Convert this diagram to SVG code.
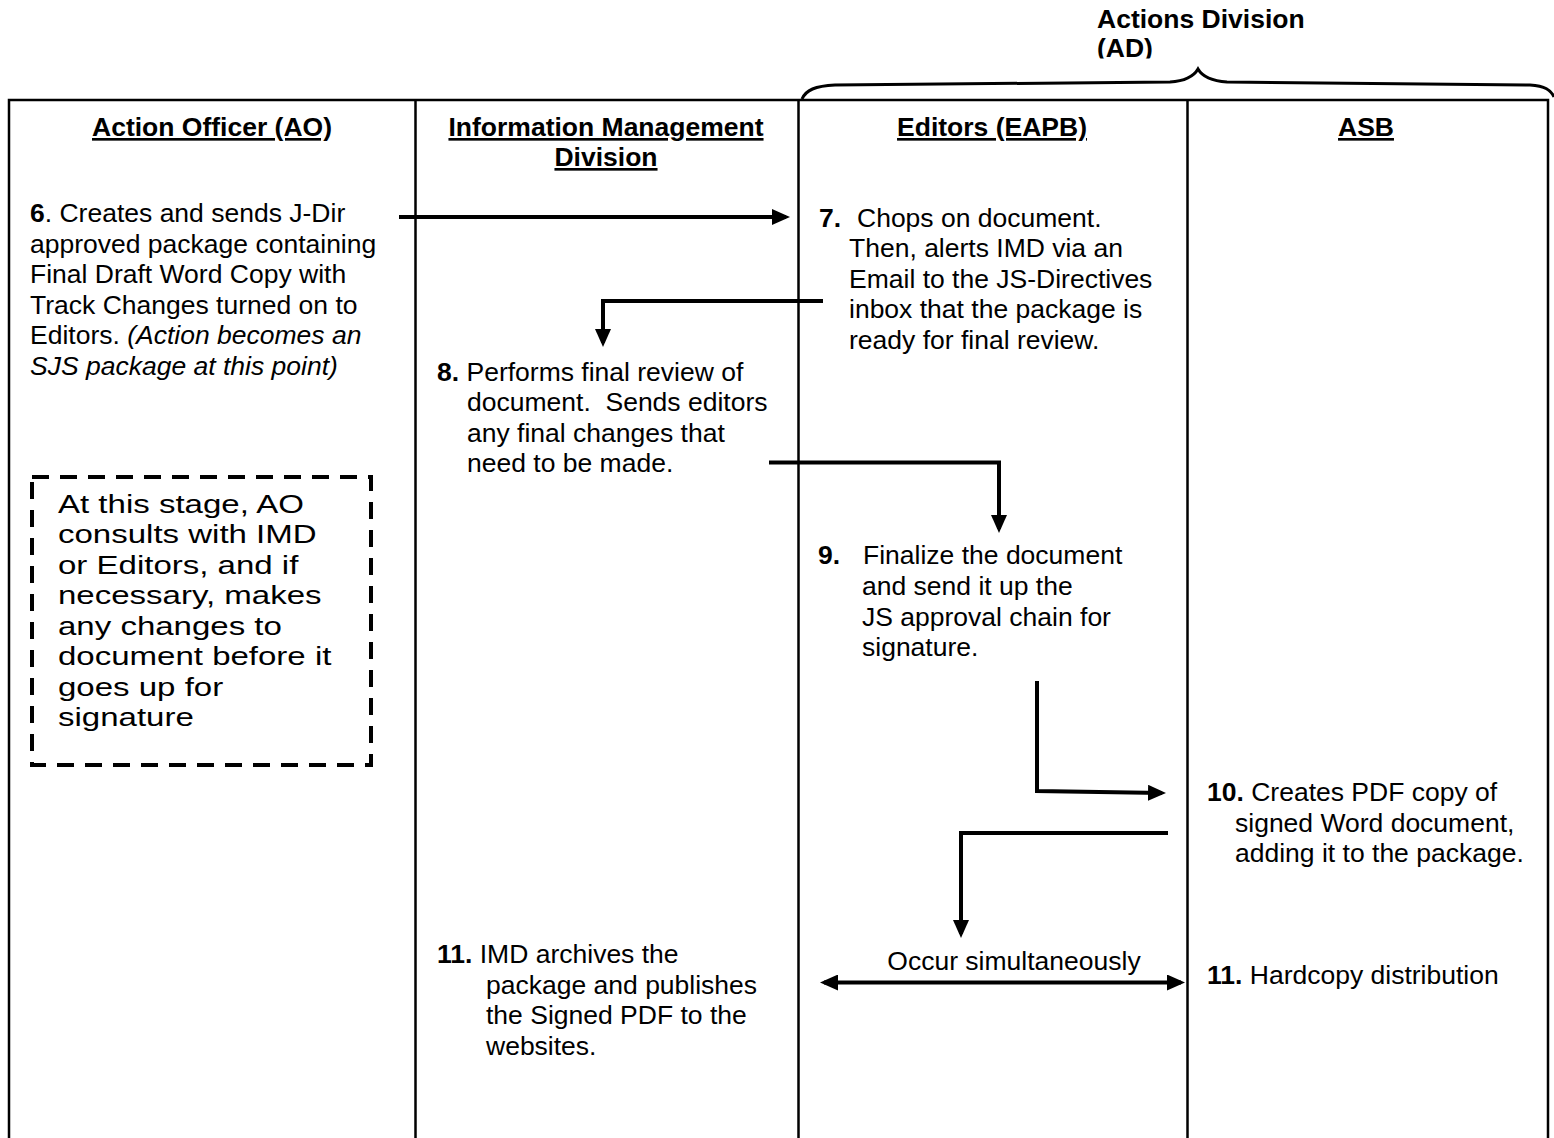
<svg xmlns="http://www.w3.org/2000/svg" width="1554" height="1138" viewBox="0 0 1554 1138">
<defs>
<style>
.t{font-family:"Liberation Sans",Arial,sans-serif;font-size:26.5px;fill:#000}
.b{font-weight:bold}
.i{font-style:italic}
.h{font-family:"Liberation Sans",Arial,sans-serif;font-size:26.5px;font-weight:bold;text-decoration:underline;fill:#000}
.bx{font-family:"Liberation Sans",Arial,sans-serif;font-size:25.6px;fill:#000}
.grid{stroke:#000;stroke-width:2.5;fill:none}
.conn{stroke:#000;stroke-width:4;fill:none;marker-end:url(#ah)}
</style>
<marker id="ah" viewBox="0 0 18 16" refX="14" refY="8" markerWidth="18" markerHeight="16" markerUnits="userSpaceOnUse" orient="auto-start-reverse">
<path d="M0,0 L18,8 L0,16 z" fill="#000"/>
</marker>
<clipPath id="topclip"><rect x="0" y="0" width="1554" height="58.5"/></clipPath>
</defs>
<rect width="1554" height="1138" fill="#fff"/>

<g id="lanes">
<path class="grid" d="M9,1138 V100 H1548 V1138"/>
<path class="grid" d="M415.5,100 V1138 M798.5,100 V1138 M1187.5,100 V1138"/>
<path d="M802,99 C806,90 815,86 835,85 L1170,82 C1185,81 1194,76 1198,69 C1202,76 1212,81 1227,82 L1530,85 C1545,86 1551,90 1554,97" stroke="#000" stroke-width="3" fill="none"/>
<text class="t b" x="1097" y="28">Actions Division</text>
<text class="t b" x="1097" y="56.5" clip-path="url(#topclip)">(AD)</text>
</g>

<g id="headers">
<text class="h" x="212" y="136" text-anchor="middle">Action Officer (AO)</text>
<text class="h" x="606" y="136" text-anchor="middle">Information Management</text>
<text class="h" x="606" y="166" text-anchor="middle">Division</text>
<text class="h" x="992" y="136" text-anchor="middle">Editors (EAPB)</text>
<text class="h" x="1366" y="136" text-anchor="middle">ASB</text>
</g>

<g id="step6">
<text class="t" x="30" y="222"><tspan class="b">6</tspan>. Creates and sends J-Dir</text>
<text class="t" x="30" y="252.5">approved package containing</text>
<text class="t" x="30" y="283">Final Draft Word Copy with</text>
<text class="t" x="30" y="313.5">Track Changes turned on to</text>
<text class="t" x="30" y="344">Editors. <tspan class="i">(Action becomes an</tspan></text>
<text class="t i" x="30" y="374.5">SJS package at this point)</text>
</g>

<g id="note">
<rect x="32" y="477" width="339" height="288" fill="none" stroke="#000" stroke-width="4" stroke-dasharray="17 11"/>
<g transform="translate(58,0) scale(1.29,1)">
<text class="bx" x="0" y="513">At this stage, AO</text>
<text class="bx" x="0" y="543.5">consults with IMD</text>
<text class="bx" x="0" y="574">or Editors, and if</text>
<text class="bx" x="0" y="604.5">necessary, makes</text>
<text class="bx" x="0" y="635">any changes to</text>
<text class="bx" x="0" y="665.5">document before it</text>
<text class="bx" x="0" y="696">goes up for</text>
<text class="bx" x="0" y="726.5">signature</text>
</g>
</g>

<g id="step7">
<text class="t" x="819" y="227"><tspan class="b">7.</tspan><tspan x="857">Chops on document.</tspan></text>
<text class="t" x="849" y="257">Then, alerts IMD via an</text>
<text class="t" x="849" y="287.5">Email to the JS-Directives</text>
<text class="t" x="849" y="318">inbox that the package is</text>
<text class="t" x="849" y="348.5">ready for final review.</text>
</g>

<g id="step8">
<text class="t" x="437" y="381"><tspan class="b">8.</tspan> Performs final review of</text>
<text class="t" x="467" y="411">document.&#160; Sends editors</text>
<text class="t" x="467" y="441.5">any final changes that</text>
<text class="t" x="467" y="472">need to be made.</text>
</g>

<g id="step9">
<text class="t" x="818" y="564"><tspan class="b">9.</tspan><tspan x="863">Finalize the document</tspan></text>
<text class="t" x="862" y="595">and send it up the</text>
<text class="t" x="862" y="625.5">JS approval chain for</text>
<text class="t" x="862" y="656">signature.</text>
</g>

<g id="step10">
<text class="t" x="1207" y="801"><tspan class="b">10.</tspan> Creates PDF copy of</text>
<text class="t" x="1235" y="832">signed Word document,</text>
<text class="t" x="1235" y="862">adding it to the package.</text>
</g>

<g id="step11-imd">
<text class="t" x="437" y="963"><tspan class="b">11.</tspan> IMD archives the</text>
<text class="t" x="486" y="993.5">package and publishes</text>
<text class="t" x="486" y="1024">the Signed PDF to the</text>
<text class="t" x="486" y="1054.5">websites.</text>
</g>

<g id="step11-asb">
<text class="t" x="1207" y="984"><tspan class="b">11.</tspan> Hardcopy distribution</text>
</g>

<g id="connectors">
<path class="conn" d="M399,217 H786"/>
<path class="conn" d="M823,301 H603 V343"/>
<path class="conn" d="M769,462.5 H999 V529"/>
<path class="conn" d="M1037,681 V791 L1162,793"/>
<path class="conn" d="M1168,833 H961 V934"/>
<path class="conn" d="M824,982.5 H1181" marker-start="url(#ah)"/>
<text class="t" x="1014" y="970" text-anchor="middle">Occur simultaneously</text>
</g>
</svg>
